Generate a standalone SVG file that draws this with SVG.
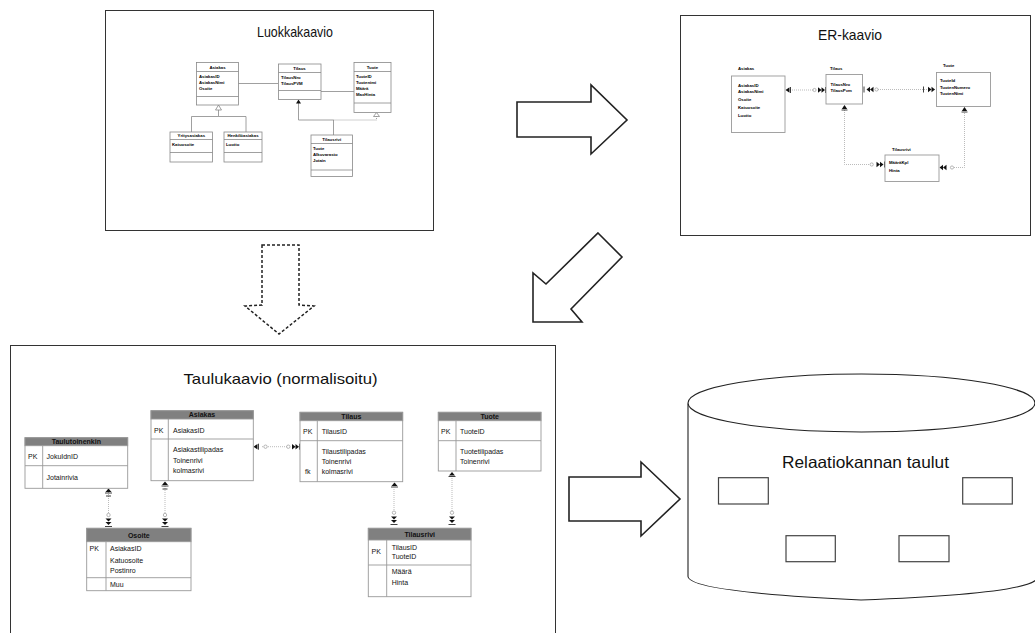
<svg xmlns="http://www.w3.org/2000/svg" width="1035" height="633" viewBox="0 0 1035 633">
<style>
.frame{fill:#fff;stroke:#333;stroke-width:1}
.title{font-family:"Liberation Sans",Arial,sans-serif;font-size:15px;fill:#111}
.big{fill:#fff;stroke:#222;stroke-width:1.6;stroke-linejoin:miter}
.cls{fill:#fff;stroke:#888;stroke-width:0.8}
.cl{stroke:#888;stroke-width:0.8;fill:none}
.ct{font-family:"Liberation Sans",Arial,sans-serif;font-size:4.3px;font-weight:bold;fill:#000}
.er{fill:#fff;stroke:#999;stroke-width:0.9}
.dot{stroke:#aaa;stroke-width:0.8;stroke-dasharray:1 1;fill:none}
.et{font-family:"Liberation Sans",Arial,sans-serif;font-size:4.3px;font-weight:bold;fill:#000}
.mk{fill:#111;stroke:none}
.bar{stroke:#111;stroke-width:0.8}
.circ{fill:#fff;stroke:#999;stroke-width:0.7}
.tb{fill:#fff;stroke:#999;stroke-width:0.9}
.th{fill:#808080;stroke:#999;stroke-width:0.9}
.tt{font-family:"Liberation Sans",Arial,sans-serif;font-size:7px;fill:#111}
.tht{font-family:"Liberation Sans",Arial,sans-serif;font-size:7px;font-weight:bold;fill:#111;text-anchor:middle}
.db{fill:#fff;stroke:#222;stroke-width:1.1}
.dbr{fill:#fff;stroke:#444;stroke-width:1.2}
</style>

<!-- Frames -->
<g id="frame-luokka"><rect class="frame" x="105.5" y="10.5" width="328" height="220"/><text class="title" x="295" y="37" text-anchor="middle" textLength="76" lengthAdjust="spacingAndGlyphs">Luokkakaavio</text></g>
<g id="frame-er"><rect class="frame" x="680.5" y="15.5" width="350" height="220"/><text class="title" x="850" y="40" text-anchor="middle" textLength="64" lengthAdjust="spacingAndGlyphs">ER-kaavio</text></g>
<g id="frame-taulu"><rect class="frame" x="10.5" y="345.5" width="545" height="300"/><text class="title" x="280.5" y="384" text-anchor="middle" font-size="16" textLength="194" lengthAdjust="spacingAndGlyphs">Taulukaavio (normalisoitu)</text></g>

<!-- Big arrows -->
<g id="arrow-right-top"><polygon class="big" points="517,102 591,102 591,85 627,120 591,154 591,137 517,137"/></g>
<g id="arrow-diag"><polygon class="big" points="598,233 622,257 571,309 582,322 533,322 533,273 546,284"/></g>
<g id="arrow-down-dashed"><polygon fill="#fff" stroke="#222" stroke-width="1.5" stroke-dasharray="3 2" points="262,245 299,245 299,305 314,306 279,334 245,306 262,305"/></g>
<g id="arrow-right-bottom"><polygon class="big" points="569,477 641,477 641,462 680,499 641,536 641,521 569,521"/></g>

<!-- Class diagram -->
<g id="class-connectors">
<line class="cl" x1="238" y1="83.5" x2="278" y2="83.5"/>
<line class="cl" x1="321" y1="91.5" x2="354" y2="91.5"/>
<polyline class="cl" points="218.5,110 218.5,116.5 191.5,116.5 191.5,132"/>
<polyline class="cl" points="218.5,116.5 246,116.5 246,132"/>
<polygon class="cls" points="218.5,105 215.5,110 221.5,110"/>
<polyline class="cl" points="333.5,135 333.5,120 298.5,120 298.5,103"/>
<polygon class="mk" points="298.5,99.5 296,103.5 301,103.5"/>
<polyline class="cl" stroke-dasharray="1 1" points="333.5,120 376.5,120 376.5,116"/>
<polygon class="cls" points="376.5,112.5 373.5,116.5 379.5,116.5"/>
</g>
<g id="class-asiakas">
<rect class="cls" x="196.5" y="62.5" width="42" height="42.5"/>
<line class="cl" x1="196.5" y1="71.5" x2="238.5" y2="71.5"/><line class="cl" x1="196.5" y1="96.5" x2="238.5" y2="96.5"/>
<text class="ct" x="217.5" y="68.5" text-anchor="middle">Asiakas</text>
<text class="ct" x="199" y="77.5">AsiakasID</text><text class="ct" x="199" y="83.5">AsiakasNimi</text><text class="ct" x="199" y="89.5">Osoite</text>
</g>
<g id="class-tilaus">
<rect class="cls" x="278.5" y="64" width="42.5" height="35.5"/>
<line class="cl" x1="278.5" y1="72.5" x2="321" y2="72.5"/><line class="cl" x1="278.5" y1="90.5" x2="321" y2="90.5"/>
<text class="ct" x="299.5" y="70" text-anchor="middle">Tilaus</text>
<text class="ct" x="281" y="78.5">TilausNro</text><text class="ct" x="281" y="84.5">TilausPVM</text>
</g>
<g id="class-tuote">
<rect class="cls" x="354" y="62.5" width="37" height="50"/>
<line class="cl" x1="354" y1="71.5" x2="391" y2="71.5"/><line class="cl" x1="354" y1="103" x2="391" y2="103"/>
<text class="ct" x="372.5" y="68.5" text-anchor="middle">Tuote</text>
<text class="ct" x="356" y="77.5">TuoteID</text><text class="ct" x="356" y="83.5">Tuotenimi</text><text class="ct" x="356" y="89.5">Määrä</text><text class="ct" x="356" y="95.5">MaxHinta</text>
</g>
<g id="class-yritysasiakas">
<rect class="cls" x="170" y="132" width="42.5" height="30"/>
<line class="cl" x1="170" y1="139.5" x2="212.5" y2="139.5"/><line class="cl" x1="170" y1="152.5" x2="212.5" y2="152.5"/>
<text class="ct" x="191.3" y="137.3" text-anchor="middle">Yritysasiakas</text>
<text class="ct" x="172" y="145.5">Katuosoite</text>
</g>
<g id="class-henkiloasiakas">
<rect class="cls" x="224" y="132" width="38" height="30"/>
<line class="cl" x1="224" y1="139.5" x2="262" y2="139.5"/><line class="cl" x1="224" y1="152.5" x2="262" y2="152.5"/>
<text class="ct" x="243" y="137.3" text-anchor="middle">Henkilöasiakas</text>
<text class="ct" x="226" y="145.5">Luotto</text>
</g>
<g id="class-tilausrivi">
<rect class="cls" x="311" y="135" width="41.5" height="41.5"/>
<line class="cl" x1="311" y1="143.5" x2="352.5" y2="143.5"/><line class="cl" x1="311" y1="170" x2="352.5" y2="170"/>
<text class="ct" x="331.7" y="141" text-anchor="middle">Tilausrivi</text>
<text class="ct" x="313" y="149.5">Tuote</text><text class="ct" x="313" y="155.5">Alkuvarasto</text><text class="ct" x="313" y="161.5">Jotain</text>
</g>

<!-- ER diagram -->
<g id="er-connectors">
<line class="dot" x1="790" y1="90" x2="814" y2="90"/>
<polygon class="mk" points="785.5,90 789.5,87.3 789.5,92.7"/><line class="bar" x1="790.5" y1="87" x2="790.5" y2="93"/>
<circle class="circ" cx="814.5" cy="90" r="1.6"/>
<polygon class="mk" points="818,87.3 821.5,90 818,92.7"/><polygon class="mk" points="821.5,87.3 825,90 821.5,92.7"/><line class="bar" x1="825.5" y1="87" x2="825.5" y2="93"/>
<line class="dot" x1="878" y1="89.5" x2="936" y2="89.5"/>
<polygon class="mk" points="866.5,89.5 870,86.8 870,92.2"/><polygon class="mk" points="870,89.5 873.5,86.8 873.5,92.2"/><line class="bar" x1="864" y1="86.5" x2="864" y2="92.5"/>
<circle class="circ" cx="876.5" cy="89.5" r="1.6"/>
<line class="bar" x1="923.5" y1="86.5" x2="923.5" y2="92.5"/>
<polygon class="mk" points="928,86.8 931.5,89.5 928,92.2"/><polygon class="mk" points="931.5,86.8 935,89.5 931.5,92.2"/>
<polyline class="dot" points="844.5,110 844.5,164.5 870,164.5"/>
<polygon class="mk" points="844.5,105 841.8,109 847.2,109"/><line class="bar" x1="841.5" y1="110" x2="847.5" y2="110"/>
<circle class="circ" cx="871.7" cy="164.5" r="1.6"/>
<polygon class="mk" points="876.5,161.8 880,164.5 876.5,167.2"/><polygon class="mk" points="880,161.8 883.5,164.5 880,167.2"/><line class="bar" x1="884.5" y1="161.5" x2="884.5" y2="167.5"/>
<polyline class="dot" points="954,167.5 964.5,167.5 964.5,112"/>
<polygon class="mk" points="939.5,167.5 943,164.8 943,170.2"/><polygon class="mk" points="943,167.5 946.5,164.8 946.5,170.2"/>
<circle class="circ" cx="952" cy="167.5" r="1.6"/>
<polygon class="mk" points="964.5,107 961.8,111 967.2,111"/><line class="bar" x1="961.5" y1="112" x2="967.5" y2="112"/>
</g>
<g id="er-asiakas">
<text class="et" x="738" y="70">Asiakas</text>
<rect class="er" x="731.5" y="76" width="53.5" height="56.5"/>
<text class="et" x="738" y="87">AsiakasID</text><text class="et" x="738" y="92.5">AsiakasNimi</text><text class="et" x="738" y="101">Osoite</text><text class="et" x="738" y="109">Katuosoite</text><text class="et" x="738" y="117">Luotto</text>
</g>
<g id="er-tilaus">
<text class="et" x="830" y="70">Tilaus</text>
<rect class="er" x="826" y="74.5" width="36.5" height="29.5"/>
<text class="et" x="830.5" y="86">TilausNro</text><text class="et" x="830.5" y="92">TilausPvm</text>
</g>
<g id="er-tuote">
<text class="et" x="943" y="67">Tuote</text>
<rect class="er" x="936.5" y="72.5" width="54" height="34"/>
<text class="et" x="940" y="82">TuoteId</text><text class="et" x="940" y="88.5">TuotenNumero</text><text class="et" x="940" y="94.5">TuotenNimi</text>
</g>
<g id="er-tilausrivi">
<text class="et" x="892" y="151">Tilausrivi</text>
<rect class="er" x="885" y="155" width="54" height="26.5"/>
<text class="et" x="889" y="164">MääräKpl</text><text class="et" x="889" y="172">Hinta</text>
</g>

<!-- Table diagram -->
<g id="table-connectors">
<line class="dot" x1="262" y1="446.7" x2="289" y2="446.7"/>
<polygon class="mk" points="253.5,446.7 257.5,444 257.5,449.4"/><line class="bar" x1="258.5" y1="443.7" x2="258.5" y2="449.7"/>
<circle class="circ" cx="265.5" cy="446.7" r="1.7"/>
<circle class="circ" cx="288.3" cy="446.7" r="1.7"/>
<polygon class="mk" points="292,444 295.5,446.7 292,449.4"/><polygon class="mk" points="295.5,444 299,446.7 295.5,449.4"/><line class="bar" x1="299.5" y1="443.7" x2="299.5" y2="449.7"/>
<line class="dot" x1="108.5" y1="492" x2="108.5" y2="513"/>
<polygon class="mk" points="108.5,488.5 105.5,492 111.5,492"/><line class="bar" x1="105" y1="493" x2="112" y2="493"/><line class="bar" x1="106" y1="496" x2="111" y2="496"/>
<circle class="circ" cx="108.5" cy="515" r="1.7"/>
<polygon class="mk" points="105.5,518.5 111.5,518.5 108.5,521.5"/><polygon class="mk" points="105.5,522 111.5,522 108.5,525"/><line class="bar" x1="105" y1="526.5" x2="112" y2="526.5"/>
<line class="dot" x1="165" y1="486" x2="165" y2="513"/>
<polygon class="mk" points="165,481.5 162,485 168,485"/><line class="bar" x1="161.5" y1="486" x2="168.5" y2="486"/><line class="bar" x1="162.5" y1="489" x2="167.5" y2="489"/>
<circle class="circ" cx="165" cy="515" r="1.7"/>
<polygon class="mk" points="162,518.5 168,518.5 165,521.5"/><polygon class="mk" points="162,522 168,522 165,525"/><line class="bar" x1="161.5" y1="526.5" x2="168.5" y2="526.5"/>
<line class="dot" x1="394" y1="489" x2="394" y2="511"/>
<polygon class="mk" points="394.5,482.5 391.5,486 397.5,486"/><line class="bar" x1="391" y1="487" x2="398" y2="487"/>
<circle class="circ" cx="394" cy="512.7" r="1.7"/>
<polygon class="mk" points="391,516.5 397,516.5 394,519.5"/><polygon class="mk" points="391,520 397,520 394,523"/><line class="bar" x1="390.5" y1="524.5" x2="397.5" y2="524.5"/>
<line class="dot" x1="452" y1="478" x2="452" y2="511"/>
<polygon class="mk" points="452,472 449,475.5 455,475.5"/><line class="bar" x1="448.5" y1="476.5" x2="455.5" y2="476.5"/>
<circle class="circ" cx="452" cy="512.7" r="1.7"/>
<polygon class="mk" points="449,516.5 455,516.5 452,519.5"/><polygon class="mk" points="449,520 455,520 452,523"/><line class="bar" x1="448.5" y1="524.5" x2="455.5" y2="524.5"/>
</g>
<g id="table-taulutoinenkin">
<rect class="tb" x="25" y="437.7" width="102.7" height="50.6"/>
<rect class="th" x="25" y="437.7" width="102.7" height="8"/>
<line class="tb" x1="25" y1="465.7" x2="127.7" y2="465.7"/><line class="tb" x1="42.7" y1="445.7" x2="42.7" y2="488.3"/>
<text class="tht" x="76.3" y="444.2">Taulutoinenkin</text>
<text class="tt" x="28" y="459">PK</text><text class="tt" x="46.5" y="459">JokuIdnID</text>
<text class="tt" x="46.5" y="479.5">Jotainrivia</text>
</g>
<g id="table-asiakas">
<rect class="tb" x="151" y="410.7" width="102.3" height="70"/>
<rect class="th" x="151" y="410.7" width="102.3" height="8.3"/>
<line class="tb" x1="151" y1="439" x2="253.3" y2="439"/><line class="tb" x1="168.3" y1="419" x2="168.3" y2="480.7"/>
<text class="tht" x="202" y="417.3">Asiakas</text>
<text class="tt" x="154" y="432.5">PK</text><text class="tt" x="173" y="432.5">AsiakasID</text>
<text class="tt" x="173" y="452">Asiakastilipadas</text><text class="tt" x="173" y="462.5">Toinenrivi</text><text class="tt" x="173" y="473">kolmasrivi</text>
</g>
<g id="table-tilaus">
<rect class="tb" x="300" y="412.3" width="102.7" height="69.4"/>
<rect class="th" x="300" y="412.3" width="102.7" height="8.4"/>
<line class="tb" x1="300" y1="440.7" x2="402.7" y2="440.7"/><line class="tb" x1="317.3" y1="420.7" x2="317.3" y2="481.7"/>
<text class="tht" x="351.3" y="419">Tilaus</text>
<text class="tt" x="303" y="434">PK</text><text class="tt" x="321.7" y="434">TilausID</text>
<text class="tt" x="321.7" y="454">Tilaustilipadas</text><text class="tt" x="321.7" y="464">Toinenrivi</text><text class="tt" x="305" y="473.5">fk</text><text class="tt" x="321.7" y="473.5">kolmasrivi</text>
</g>
<g id="table-tuote">
<rect class="tb" x="438.3" y="412.3" width="102.7" height="58.7"/>
<rect class="th" x="438.3" y="412.3" width="102.7" height="8.4"/>
<line class="tb" x1="438.3" y1="440.7" x2="541" y2="440.7"/><line class="tb" x1="456" y1="420.7" x2="456" y2="471"/>
<text class="tht" x="489.7" y="419">Tuote</text>
<text class="tt" x="441" y="434">PK</text><text class="tt" x="460" y="434">TuoteID</text>
<text class="tt" x="460" y="454">Tuotetilipadas</text><text class="tt" x="460" y="464">Toinenrivi</text>
</g>
<g id="table-osoite">
<rect class="tb" x="86.7" y="528.3" width="104.3" height="62.4"/>
<rect class="th" x="86.7" y="528.3" width="104.3" height="13.4"/>
<line class="tb" x1="86.7" y1="577.7" x2="191" y2="577.7"/><line class="tb" x1="106" y1="541.7" x2="106" y2="590.7"/>
<text class="tht" x="138.8" y="537.5">Osoite</text>
<text class="tt" x="89.5" y="551">PK</text><text class="tt" x="110" y="551">AsiakasID</text>
<text class="tt" x="110" y="563">Katuosoite</text><text class="tt" x="110" y="573">Postinro</text>
<text class="tt" x="110" y="587">Muu</text>
</g>
<g id="table-tilausrivi">
<rect class="tb" x="368.3" y="528.3" width="102.7" height="68.4"/>
<rect class="th" x="368.3" y="528.3" width="102.7" height="11.7"/>
<line class="tb" x1="368.3" y1="565" x2="471" y2="565"/><line class="tb" x1="386.7" y1="540" x2="386.7" y2="596.7"/>
<text class="tht" x="419.7" y="536.5">Tilausrivi</text>
<text class="tt" x="371.5" y="554">PK</text><text class="tt" x="391.7" y="549.5">TilausID</text><text class="tt" x="391.7" y="559">TuoteID</text>
<text class="tt" x="391.7" y="573.5">Määrä</text><text class="tt" x="391.7" y="584.5">Hinta</text>
</g>

<!-- Database cylinder -->
<g id="database">
<path class="db" d="M688,403.5 L688,576.5 Q690,592 861,600 Q1020,594 1036,580 L1036,403.5"/>
<ellipse class="db" cx="861.5" cy="403" rx="173.5" ry="29"/>
<text x="865.5" y="468" text-anchor="middle" font-family="'Liberation Sans',Arial,sans-serif" font-size="16.5" fill="#111" textLength="167" lengthAdjust="spacingAndGlyphs">Relaatiokannan taulut</text>
<rect class="dbr" x="718.5" y="477.7" width="49.8" height="26.3"/>
<rect class="dbr" x="962.7" y="477.7" width="49.6" height="26.3"/>
<rect class="dbr" x="786" y="535.7" width="49.3" height="26"/>
<rect class="dbr" x="899" y="535.7" width="50" height="26"/>
</g>
</svg>
